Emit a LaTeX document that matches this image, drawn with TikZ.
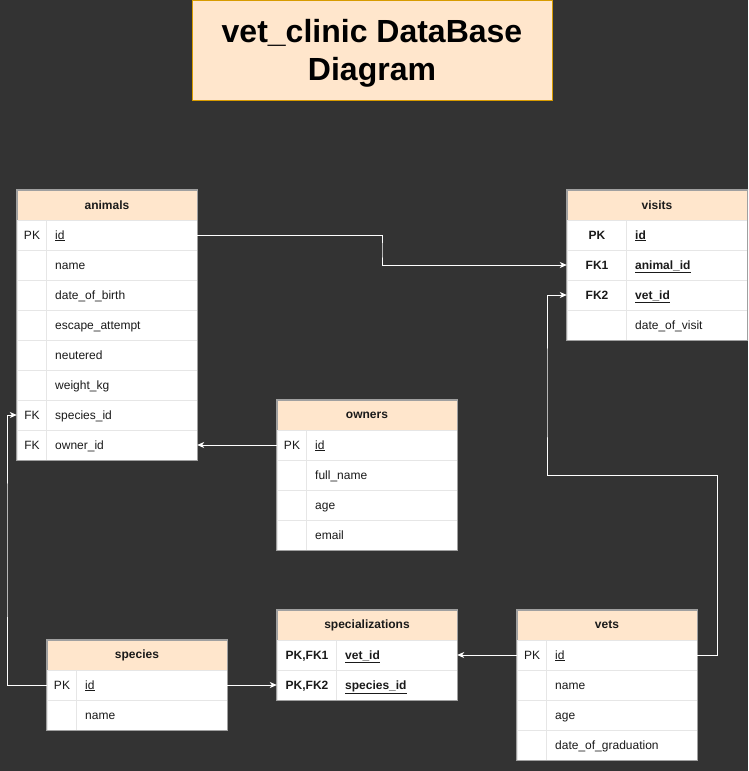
\documentclass[tikz,border=0pt]{standalone}
\usepackage{fontspec}
\setmainfont{Liberation Sans}
\usetikzlibrary{arrows.meta}
\definecolor{bgc}{HTML}{333333}
\definecolor{hdrfill}{HTML}{FFE6CC}
\definecolor{titleborder}{HTML}{D79B00}
\definecolor{tblline}{HTML}{A0A0A0}
\definecolor{sepc}{HTML}{E6E6E6}
\definecolor{txtc}{HTML}{1A1A1A}
\tikzset{
  hdrbox/.style={draw=tblline, fill=hdrfill, minimum width=180pt, minimum height=30pt, inner sep=0pt, font=\fontsize{12}{14}\selectfont\bfseries, text=txtc},
  rowbox/.style={draw=sepc, fill=white, minimum width=180pt, minimum height=30pt, inner sep=0pt},
  keytxt/.style={inner sep=0pt, text height=8.6pt, text depth=2.6pt, yshift=-1pt, font=\fontsize{12}{14}\selectfont, text=txtc},
  fldtxt/.style={inner sep=0pt, text height=8.6pt, text depth=2.6pt, yshift=-1pt, font=\fontsize{12}{14}\selectfont, text=txtc, anchor=west},
  sepline/.style={draw=sepc, line width=0.8pt},
  tblborder/.style={draw=tblline, line width=0.8pt},
  conn/.style={draw=white, line width=1pt, -{Stealth[length=7pt,width=6pt,inset=2pt]}},
  titlebox/.style={draw=titleborder, fill=hdrfill, line width=1pt, minimum width=360pt, minimum height=100pt, inner sep=0pt},
  titletxt/.style={inner sep=0pt, align=center, font=\fontsize{32}{38}\selectfont\bfseries, text=black}
}
% table header: name, left x, top y, title
\newcommand\ERhead[4]{\node[hdrbox] (#1) at ({#2+90},{#3+15}) {#4};}
% table row: name, left x, top y, key column width, key, field
\newcommand\ERrow[6]{%
  \node[rowbox] (#1) at ({#2+90},{#3+15}) {};
  \draw[sepline] ([xshift=#4pt]#1.north west) -- ([xshift=#4pt]#1.south west);
  \node[keytxt] (#1-k) at ({#2+#4/2},{#3+15}) {#5};
  \node[fldtxt] (#1-f) at ({#2+#4+8},{#3+15}) {#6};
}
\begin{document}
\begin{tikzpicture}[x=1pt,y=-1pt]
\fill[bgc] (0,0) rectangle (748,771);
\useasboundingbox (0,0) rectangle (748,771);

% title
\node[titlebox] (title) at (372,50) {};
\node[titletxt] (title-t) at (372,53) {vet\_clinic DataBase\\Diagram};

% animals
\ERhead{an}{17}{190}{animals}
\ERrow{an-id}{17}{220}{30}{PK}{\underline{id}}
\ERrow{an-name}{17}{250}{30}{}{name}
\ERrow{an-dob}{17}{280}{30}{}{date\_of\_birth}
\ERrow{an-esc}{17}{310}{30}{}{escape\_attempt}
\ERrow{an-neu}{17}{340}{30}{}{neutered}
\ERrow{an-wkg}{17}{370}{30}{}{weight\_kg}
\ERrow{an-sid}{17}{400}{30}{FK}{species\_id}
\ERrow{an-oid}{17}{430}{30}{FK}{owner\_id}
\draw[tblborder] (an.north west) rectangle (an-oid.south east);

% visits
\ERhead{vi}{567}{190}{visits}
\ERrow{vi-id}{567}{220}{60}{\bfseries PK}{\bfseries\underline{id}}
\ERrow{vi-aid}{567}{250}{60}{\bfseries FK1}{\bfseries\underline{animal\_id}}
\ERrow{vi-vid}{567}{280}{60}{\bfseries FK2}{\bfseries\underline{vet\_id}}
\ERrow{vi-dov}{567}{310}{60}{}{date\_of\_visit}
\draw[tblborder] (vi.north west) rectangle (vi-dov.south east);

% owners
\ERhead{ow}{277}{400}{owners}
\ERrow{ow-id}{277}{430}{30}{PK}{\underline{id}}
\ERrow{ow-fn}{277}{460}{30}{}{full\_name}
\ERrow{ow-age}{277}{490}{30}{}{age}
\ERrow{ow-em}{277}{520}{30}{}{email}
\draw[tblborder] (ow.north west) rectangle (ow-em.south east);

% species
\ERhead{sp}{47}{640}{species}
\ERrow{sp-id}{47}{670}{30}{PK}{\underline{id}}
\ERrow{sp-name}{47}{700}{30}{}{name}
\draw[tblborder] (sp.north west) rectangle (sp-name.south east);

% specializations
\ERhead{sz}{277}{610}{specializations}
\ERrow{sz-vid}{277}{640}{60}{\bfseries PK,FK1}{\bfseries\underline{vet\_id}}
\ERrow{sz-sid}{277}{670}{60}{\bfseries PK,FK2}{\bfseries\underline{species\_id}}
\draw[tblborder] (sz.north west) rectangle (sz-sid.south east);

% vets
\ERhead{ve}{517}{610}{vets}
\ERrow{ve-id}{517}{640}{30}{PK}{\underline{id}}
\ERrow{ve-name}{517}{670}{30}{}{name}
\ERrow{ve-age}{517}{700}{30}{}{age}
\ERrow{ve-dog}{517}{730}{30}{}{date\_of\_graduation}
\draw[tblborder] (ve.north west) rectangle (ve-dog.south east);

% connectors
\coordinate (c1) at (382,250);
\coordinate (c3) at (7,550);
\coordinate (c6a) at (717,475);
\coordinate (c6b) at (547,400);
\draw[conn] (an-id.east) -| (c1) |- (vi-aid.west);
\draw[conn] (ow-id.west) -- (an-oid.east);
\draw[conn] (sp-id.west) -| (c3) |- (an-sid.west);
\draw[conn] (sp-id.east) -- (sz-sid.west);
\draw[conn] (ve-id.west) -- (sz-vid.east);
\draw[conn] (ve-id.east) -| (c6a) -| (c6b) |- (vi-vid.west);
\end{tikzpicture}
\end{document}
